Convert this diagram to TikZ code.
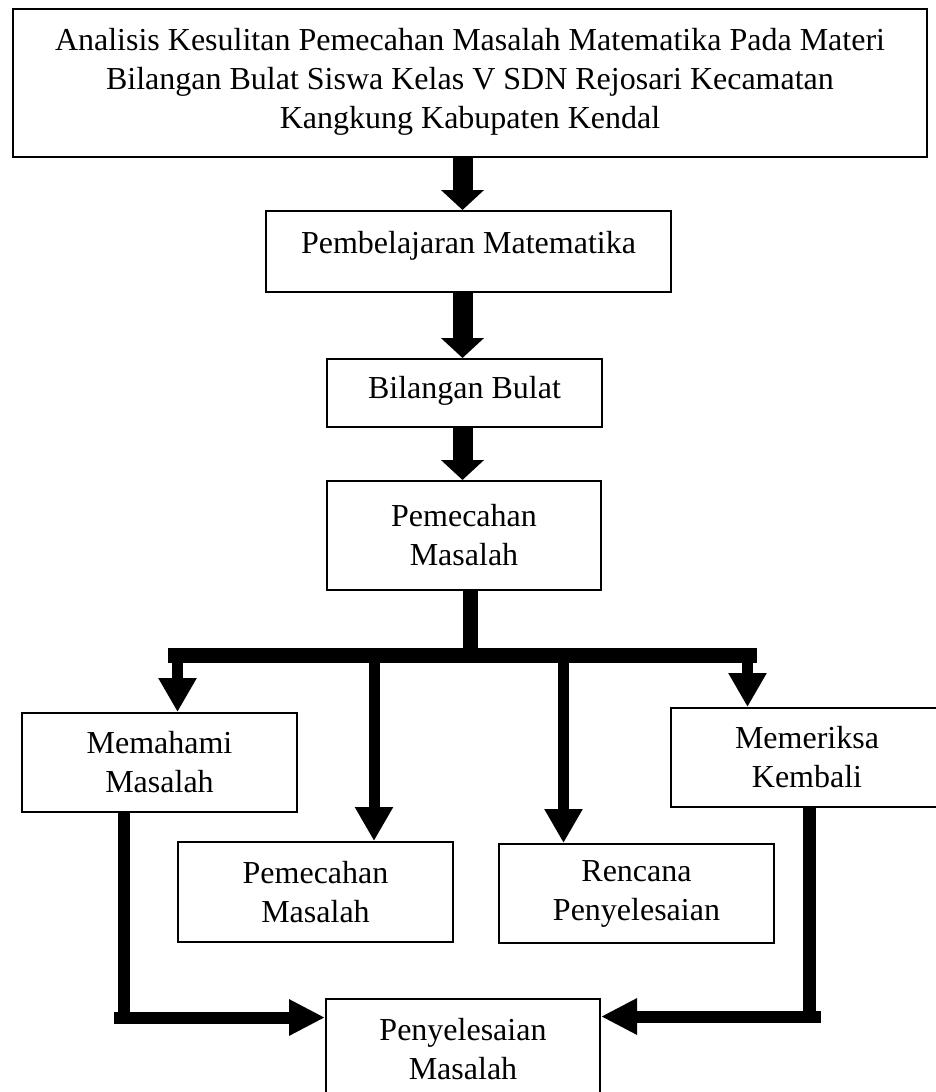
\documentclass[tikz,border=0pt]{standalone}
\usepackage{fontspec}
\setmainfont{Liberation Serif}
\usetikzlibrary{arrows.meta}
\begin{document}
\begin{tikzpicture}[x=0.5pt,y=-0.5pt,
  box/.style={draw, line width=1pt, inner sep=0pt, font=\fontsize{16pt}{19.5pt}\selectfont},
  mbox/.style={box, align=center},
  mainarrow/.style={line width=10pt, -{Triangle[width=21pt,length=10pt]}},
  barline/.style={line width=7.5pt},
  brarrow/.style={line width=5.5pt, -{Triangle[width=18pt,length=17pt]}},
  link/.style={line width=6pt},
  linkarrow/.style={line width=6pt, -{Triangle[width=17pt,length=18pt]}},
]
\useasboundingbox (0,0) rectangle (936,1092);

% boxes
\node[mbox, minimum width=457pt, minimum height=74pt] (title) at (470,83)
  {Analisis Kesulitan Pemecahan Masalah Matematika Pada Materi\\Bilangan Bulat Siswa Kelas V SDN Rejosari Kecamatan\\Kangkung Kabupaten Kendal\rule[-5pt]{0pt}{5pt}};
\node[box, minimum width=202.5pt, minimum height=40.5pt, text height=11pt, text depth=9pt] (pm) at (468.5,251.5) {Pembelajaran Matematika};
\node[box, minimum width=137.5pt, minimum height=34pt, text height=11pt, text depth=6pt] (bb) at (464.5,393) {Bilangan Bulat};
\node[mbox, minimum width=137pt, minimum height=54.5pt] (pmc) at (464,535.5) {Pemecahan\\Masalah};
\node[mbox, minimum width=137.5pt, minimum height=49.5pt] (mm) at (159.5,762.5) {Memahami\\Masalah};
\node[mbox, minimum width=136pt, minimum height=49.5pt] (mk) at (807,757.5) {Memeriksa\\Kembali};
\node[mbox, minimum width=137.5pt, minimum height=50pt] (ps) at (315.5,892) {Pemecahan\\Masalah};
\node[mbox, minimum width=137.5pt, minimum height=49.5pt] (rp) at (636.5,893.5) {Rencana\\Penyelesaian};
\node[mbox, minimum width=137pt, minimum height=50pt] (py) at (463,1049) {Penyelesaian\\Masalah};

% helper coordinates
\coordinate (ax) at (462.5,0);
\coordinate (sx) at (470.5,0);
\coordinate (barL) at (168,655.5);
\coordinate (barR) at (757,655.5);
\coordinate (b1) at (177.5,655.5);
\coordinate (b2) at (374,655.5);
\coordinate (b3) at (563.5,655.5);
\coordinate (b4) at (747.5,655.5);
\coordinate (vL) at (124,1023.5);
\coordinate (hL) at (114,1017.5);
\coordinate (vR) at (809.5,1022.5);
\coordinate (hR) at (821,1016.5);

% main arrows
\draw[mainarrow] (title.south -| ax) -- (pm.north -| ax);
\draw[mainarrow] (pm.south -| ax) -- (bb.north -| ax);
\draw[mainarrow] (bb.south -| ax) -- (pmc.north -| ax);

% stem and bar
\draw[barline] (pmc.south -| sx) -- (sx |- barL);
\draw[barline] (barL) -- (barR);

% branches
\draw[brarrow] (b1) -- (mm.north -| b1);
\draw[brarrow] (b2) -- (ps.north -| b2);
\draw[brarrow] (b3) -- (rp.north -| b3);
\draw[brarrow] (b4) -- (mk.north -| b4);

% bottom connectors
\draw[link] (mm.south -| vL) -- (vL);
\draw[linkarrow] (hL) -- (py.west |- hL);
\draw[line width=6.5pt] (mk.south -| vR) -- (vR);
\draw[linkarrow] (hR) -- (py.east |- hR);
\end{tikzpicture}
\end{document}
